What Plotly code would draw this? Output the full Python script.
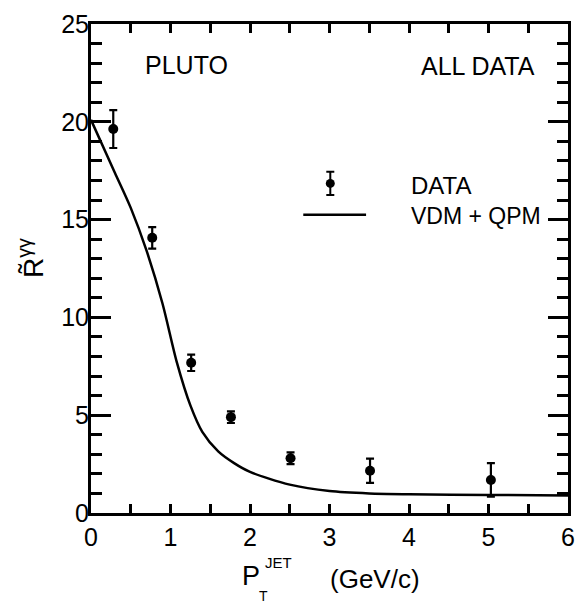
import plotly.graph_objects as go

# PLUTO jet data: ratio R~(γγ) versus jet transverse momentum
pt_data = [0.28, 0.77, 1.26, 1.76, 2.51, 3.51, 5.03]
r_data = [19.63, 14.07, 7.68, 4.90, 2.80, 2.16, 1.69]
r_err = [0.97, 0.55, 0.42, 0.30, 0.30, 0.62, 0.86]

# VDM + QPM prediction
pt_model = [0, 0.3, 0.5, 0.7, 0.9, 1.08, 1.25, 1.4, 1.6, 1.8, 2.0, 2.5, 3.0, 3.5, 4.0, 5.0, 6.0]
r_model = [20.1, 17.4, 15.6, 13.4, 10.7, 7.7, 5.5, 4.15, 3.15, 2.55, 2.1, 1.45, 1.12, 1.0, 0.96, 0.92, 0.9]

# legend key samples (drawn inside the frame)
key_marker_x = [3.01]
key_marker_y = [16.85]
key_marker_err = [0.59]
key_line_x = [2.67, 3.46]
key_line_y = [15.25, 15.25]

x_ticks = [0, 1, 2, 3, 4, 5, 6]
y_ticks = [0, 5, 10, 15, 20, 25]

FONT = "Liberation Sans"
INK = "black"

fig = go.Figure()

fig.add_trace(go.Scatter(
    x=pt_model, y=r_model, mode="lines",
    line=dict(color=INK, width=2.5, shape="spline", smoothing=0.8),
    showlegend=False, hoverinfo="skip",
))

fig.add_trace(go.Scatter(
    x=pt_data, y=r_data, mode="markers",
    marker=dict(color=INK, size=10, symbol="circle"),
    error_y=dict(type="data", array=r_err, visible=True, color=INK, thickness=2.2, width=4),
    showlegend=False,
))

fig.add_trace(go.Scatter(
    x=key_marker_x, y=key_marker_y, mode="markers",
    marker=dict(color=INK, size=9, symbol="circle"),
    error_y=dict(type="data", array=key_marker_err, visible=True, color=INK, thickness=2, width=4),
    showlegend=False, hoverinfo="skip",
))
fig.add_trace(go.Scatter(
    x=key_line_x, y=key_line_y, mode="lines",
    line=dict(color=INK, width=2.5),
    showlegend=False, hoverinfo="skip",
))

axis_common = dict(
    showline=True, linecolor=INK, linewidth=3, mirror="allticks",
    ticks="inside", tickcolor=INK, tickwidth=2.5,
    showgrid=False, zeroline=False,
    tickfont=dict(family=FONT, size=25, color=INK),
)

fig.update_xaxes(
    range=[0, 6], tickvals=x_ticks, ticktext=[str(v) for v in x_ticks], ticklen=9,
    minor=dict(dtick=0.5, tick0=0, ticks="inside", ticklen=9, tickwidth=2.5, tickcolor=INK),
    **axis_common,
)
fig.update_yaxes(
    range=[0, 25], tickvals=y_ticks, ticktext=[str(v) for v in y_ticks], ticklen=20,
    minor=dict(dtick=1, tick0=0, ticks="inside", ticklen=11, tickwidth=2.5, tickcolor=INK),
    ticklabelstandoff=-6,
    **axis_common,
)

# plot frame in pixels, used to place the axis titles
L, R, T, B = 91, 10, 18, 93
W, H = 585, 606
PW, PH = W - L - R, H - T - B


def px(xp, yp):
    return (xp - L) / PW, (H - B - yp) / PH


annotations = []


def label(text, xp, yp, size, anchor="center", angle=0):
    x, y = px(xp, yp)
    annotations.append(dict(
        text=text, x=x, y=y, xref="paper", yref="paper",
        xanchor=anchor, yanchor="middle", showarrow=False, textangle=angle,
        font=dict(family=FONT, size=size, color=INK),
    ))


# x-axis title: P with stacked subscript T and superscript JET
label("P", 253, 577, 27)
label("T", 266, 597, 14)
label("JET", 281, 563, 15)
label("(GeV/c)", 379, 580, 26)

# y-axis title
label("R̃<sup>γγ</sup>", 30, 255, 28, angle=-90)

# in-frame text
for text, x, y, size in [
    ("PLUTO", 0.66, 22.9, 25),
    ("ALL DATA", 4.13, 22.85, 25),
    ("DATA", 4.0, 16.73, 24),
    ("VDM + QPM", 4.0, 15.2, 23),
]:
    annotations.append(dict(
        text=text, x=x, y=y, xref="x", yref="y", xanchor="left", yanchor="middle",
        showarrow=False, font=dict(family=FONT, size=size, color=INK),
    ))

fig.update_layout(
    width=W, height=H,
    margin=dict(l=L, r=R, t=T, b=B),
    paper_bgcolor="white", plot_bgcolor="white",
    annotations=annotations,
    showlegend=False,
)

fig.write_html("out.html")
